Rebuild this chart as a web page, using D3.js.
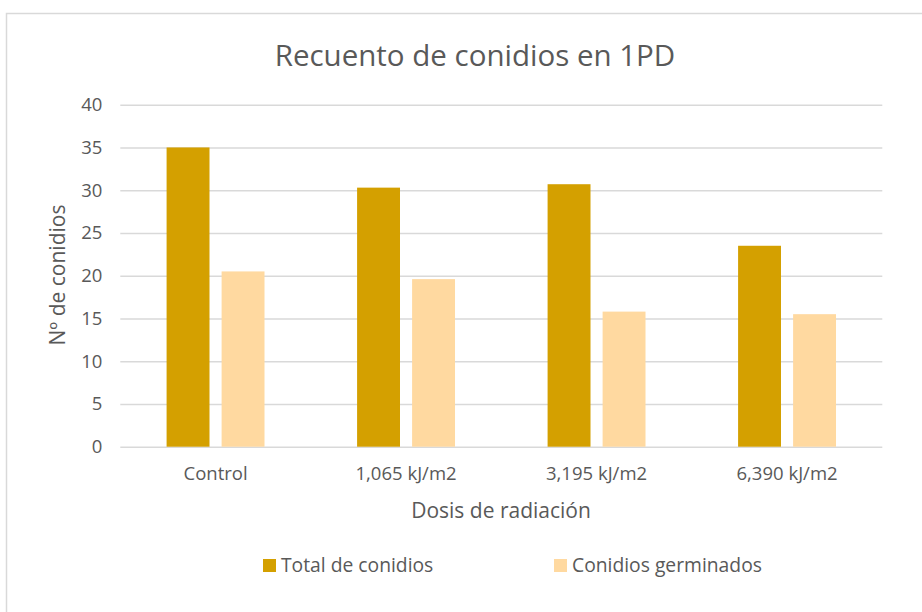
<!DOCTYPE html>
<html>
<head>
<meta charset="utf-8">
<script src="https://cdn.jsdelivr.net/npm/d3@7"></script>
<style>
  body { margin: 0; background: #fff; }
  text { font-family: "Open Sans", "Noto Sans", sans-serif; fill: #595959; }
</style>
</head>
<body>
<div id="chart"></div>
<script>
var categories = ["Control", "1,065 kJ/m2", "3,195 kJ/m2", "6,390 kJ/m2"];
var seriesNames = ["Total de conidios", "Conidios germinados"];
var totalConidios = [35, 30.3, 30.7, 23.5];
var conidiosGerminados = [20.5, 19.6, 15.8, 15.5];
var yTicks = [0, 5, 10, 15, 20, 25, 30, 35, 40];
var colors = ["#D4A000", "#FFD9A0"];

var width = 922;
var height = 612;
var margin = { top: 104.7, left: 120.3, bottom: 165.3, right: 39.7 };

var svg = d3.select("#chart")
   .append("svg")
   .attr("width", width)
   .attr("height", height);

// chart frame
svg.append("rect")
   .attr("x", 6.5)
   .attr("y", 13.5)
   .attr("width", 930)
   .attr("height", 620)
   .attr("fill", "none")
   .attr("stroke", "#d9d9d9")
   .attr("stroke-width", 1.5);

var data = categories.map(function (c, i) {
   return { cat: c, values: [totalConidios[i], conidiosGerminados[i]] };
});

var x0 = d3.scaleBand()
   .domain(categories)
   .range([margin.left, width - margin.right])
   .padding(0);

var bw = x0.bandwidth();
var x1 = d3.scaleBand()
   .domain(d3.range(seriesNames.length))
   .range([bw * 0.243, bw * 0.757])
   .paddingInner(0.22);

var y = d3.scaleLinear()
   .domain([0, 40])
   .range([height - margin.bottom, margin.top]);

// gridlines
var yAxis = d3.axisLeft(y)
   .tickValues(yTicks)
   .tickSize(-(width - margin.left - margin.right))
   .tickPadding(18);

var gY = svg.append("g")
   .attr("transform", "translate(" + margin.left + ",0)")
   .call(yAxis);
gY.select(".domain").remove();
gY.selectAll(".tick line")
   .attr("stroke", "#d9d9d9")
   .attr("stroke-width", 1.5);
gY.selectAll(".tick text")
   .attr("font-size", 18.5)
   .attr("fill", "#595959")
   .style("font-family", "'Open Sans', sans-serif");

// bars
var groups = svg.selectAll(".group")
   .data(data)
   .enter().append("g")
   .attr("class", "group")
   .attr("transform", function (d) { return "translate(" + x0(d.cat) + ",0)"; });

groups.selectAll("rect")
   .data(function (d) { return d.values; })
   .enter().append("rect")
   .attr("x", function (d, i) { return x1(i); })
   .attr("width", x1.bandwidth())
   .attr("y", function (d) { return y(d); })
   .attr("height", function (d) { return y(0) - y(d); })
   .attr("fill", function (d, i) { return colors[i]; });

// x axis labels
var xAxis = d3.axisBottom(x0).tickSize(0).tickPadding(20);
var gX = svg.append("g")
   .attr("transform", "translate(0," + (height - margin.bottom) + ")")
   .call(xAxis);
gX.select(".domain").remove();
gX.selectAll(".tick text")
   .attr("font-size", 18.5)
   .attr("fill", "#595959")
   .style("font-family", "'Open Sans', sans-serif");

// title
svg.append("text")
   .attr("x", 475)
   .attr("y", 66)
   .attr("text-anchor", "middle")
   .attr("font-size", 29.5)
   .text("Recuento de conidios en 1PD");

// axis titles
svg.append("text")
   .attr("x", 501)
   .attr("y", 518)
   .attr("text-anchor", "middle")
   .attr("font-size", 21)
   .text("Dosis de radiación");

svg.append("text")
   .attr("transform", "translate(65,275) rotate(-90)")
   .attr("text-anchor", "middle")
   .attr("font-size", 21)
   .text("Nº de conidios");

// legend
var legendX = [263, 554];
var legend = svg.selectAll(".legend")
   .data(seriesNames)
   .enter().append("g")
   .attr("class", "legend")
   .attr("transform", function (d, i) { return "translate(" + legendX[i] + ",559)"; });

legend.append("rect")
   .attr("width", 13)
   .attr("height", 13)
   .attr("fill", function (d, i) { return colors[i]; });

legend.append("text")
   .attr("x", 18)
   .attr("y", 13)
   .attr("font-size", 19.3)
   .text(function (d) { return d; });
</script>
</body>
</html>
